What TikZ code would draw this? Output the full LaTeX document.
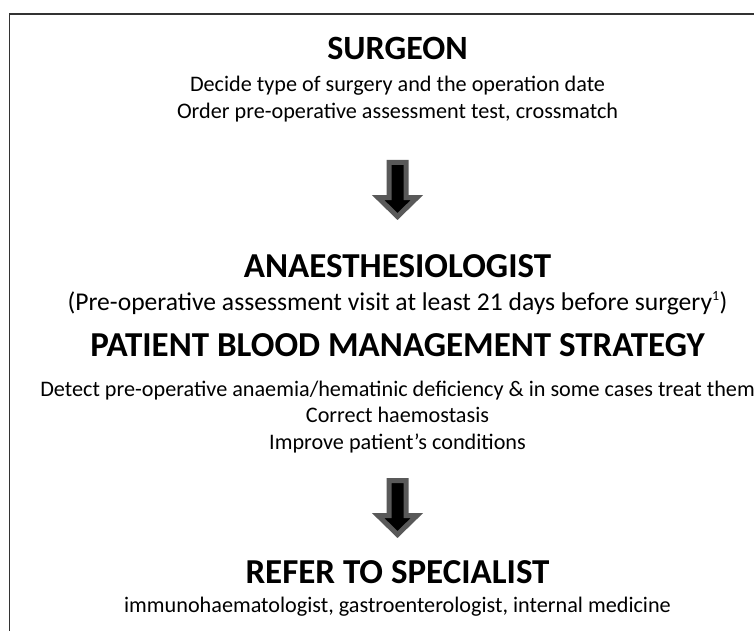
\documentclass[tikz,border=0pt]{standalone}
\usepackage{fontspec}
\setmainfont{Carlito}
\begin{document}
\begin{tikzpicture}[x=1pt, y=-1pt,
		head/.style={anchor=base, font=\fontsize{35}{40}\selectfont\bfseries},
		body/.style={anchor=base, font=\fontsize{22.2}{26}\selectfont},
		blockarrow/.style={fill=black, draw=black!65, line width=5pt, miter limit=4}]
		\useasboundingbox (0,0) rectangle (754,631);
		\clip (0,0) rectangle (754,631);
		\draw[line width=1.3pt, black!80] (9.5,660) -- (9.5,14) -- (785.5,14) -- (785.5,660);

		\node[head, font=\fontsize{34}{40}\selectfont\bfseries] (surgeon) at (397.5,60) {SURGEON};
		\node[body] (decide) at (397.5,92) {Decide type of surgery and the operation date};
		\node[body] (order) at (397.5,119) {Order pre-operative assessment test, crossmatch};

		\coordinate (arrowone) at (397.5,162.5);
		\filldraw[blockarrow]
		(arrowone) ++(-8.5,0) -- ++
		(17,0) -- ++
		(0,35) -- ++
		(11,0) -- ++
		(-19.5,19) -- ++
		(-19.5,-19) -- ++
		(11,0) --
		cycle;

		\node[head] (anaesth) at (397.5,277) {ANAESTHESIOLOGIST};
		\node[body, font=\fontsize{25.6}{30}\selectfont] (visit) at (397.5,310) {(Pre-operative assessment visit at least 21 days before surgery\textsuperscript{\fontsize{14}{16}\selectfont 1})};
		\node[head] (pbm) at (397.5,356) {PATIENT BLOOD MANAGEMENT STRATEGY};
		\node[body] (detect) at (397.5,396) {Detect pre-operative anaemia/hematinic deficiency \& in some cases treat them};
		\node[body] (correct) at (397.5,422.5) {Correct haemostasis};
		\node[body] (improve) at (397.5,449) {Improve patient’s conditions};

		\coordinate (arrowtwo) at (397.5,480.5);
		\filldraw[blockarrow]
		(arrowtwo) ++(-8.5,0) -- ++
		(17,0) -- ++
		(0,35) -- ++
		(11,0) -- ++
		(-19.5,19) -- ++
		(-19.5,-19) -- ++
		(11,0) --
		cycle;

		\node[head] (refer) at (397.5,583.5) {REFER TO SPECIALIST};
		\node[body] (specialists) at (397.5,612) {immunohaematologist, gastroenterologist, internal medicine};
	\end{tikzpicture}
\end{document}
